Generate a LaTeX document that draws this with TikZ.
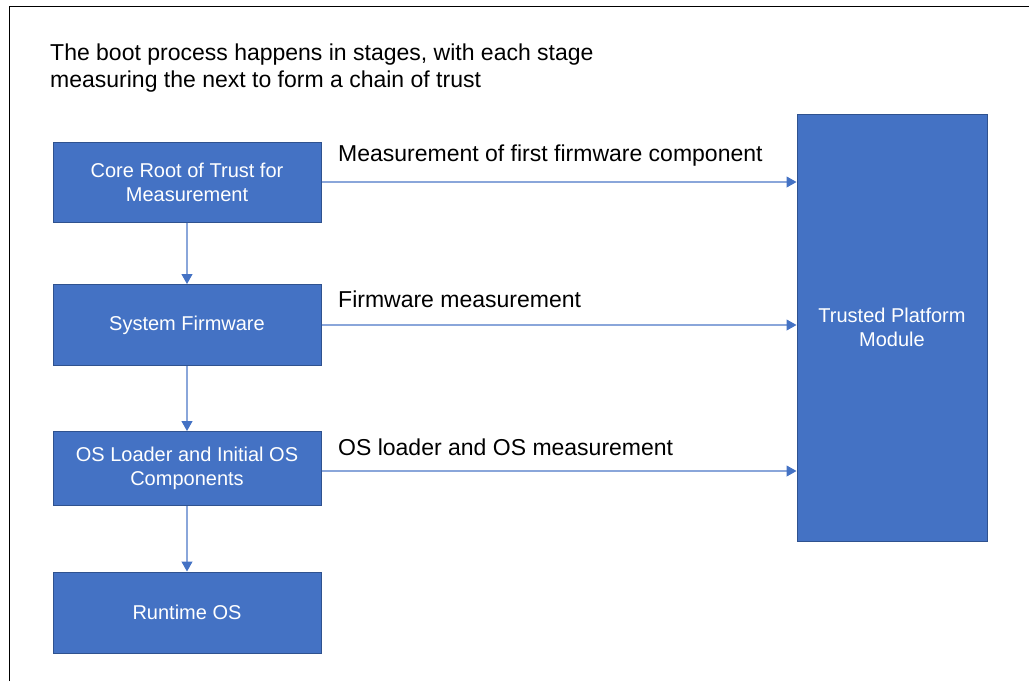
\documentclass[tikz,border=0pt]{standalone}
\usepackage{fontspec}
\setmainfont{Liberation Sans}
\usetikzlibrary{arrows.meta}
\definecolor{boxfill}{HTML}{4472C4}
\definecolor{boxline}{HTML}{2F528F}
\definecolor{linkline}{HTML}{8AA6DA}
\begin{document}
\begin{tikzpicture}[x=1pt,y=-1pt,
  stage/.style={draw=boxline,line width=1pt,fill=boxfill,text=white,
    minimum width=268pt,minimum height=80pt,inner sep=0pt,align=center,
    font=\fontsize{20}{24}\selectfont},
  tpmbox/.style={draw=boxline,line width=1pt,fill=boxfill,text=white,
    minimum width=190pt,minimum height=427pt,inner sep=0pt,align=center,
    font=\fontsize{20}{24}\selectfont},
  link/.style={draw=linkline,line width=1.1pt,
    -{Triangle[length=10pt,width=11pt,color=boxfill]}},
  caption/.style={anchor=base west,inner sep=0pt,font=\fontsize{23}{27}\selectfont},
]
\useasboundingbox (0,0) rectangle (1029,681);
% outer frame (left and top edges)
\draw[line width=1.2pt] (9.5,681) -- (9.5,6.5) -- (1029,6.5);

% heading (base anchor sits on the last line)
\node[caption,align=left] (title) at (50,87)
  {The boot process happens in stages, with each stage\\measuring the next to form a chain of trust};

% boot stages
\node[stage] (crtm) at (187,182) {\raisebox{-1.5pt}{\parbox{260pt}{\centering Core Root of Trust for\\Measurement}}};
\node[stage,minimum height=81pt] (fw) at (187,325) {\raisebox{-1.5pt}{System Firmware}};
\node[stage,minimum height=74pt] (osl) at (187,468.5) {\raisebox{-1.5pt}{\parbox{260pt}{\centering OS Loader and Initial OS\\Components}}};
\node[stage,minimum height=81pt] (rt) at (187,612.5) {Runtime OS};

% trusted platform module
\node[tpmbox] (tpm) at (892,327.5) {\raisebox{-1.5pt}{\parbox{180pt}{\centering Trusted Platform\\Module}}};

% chain between stages
\draw[link] (crtm) -- (fw);
\draw[link] (fw) -- (osl);
\draw[link] (osl) -- (rt);

% measurements sent to the TPM
\draw[link] (crtm.east) -- (crtm.east -| tpm.west);
\draw[link] (fw.east) -- (fw.east -| tpm.west);
\draw[link] (osl.east |- 0,471) -- (tpm.west |- 0,471);

\node[caption] (m1) at (338,161) {Measurement of first firmware component};
\node[caption] (m2) at (338,307) {Firmware measurement};
\node[caption] (m3) at (338,455) {OS loader and OS measurement};
\end{tikzpicture}
\end{document}
